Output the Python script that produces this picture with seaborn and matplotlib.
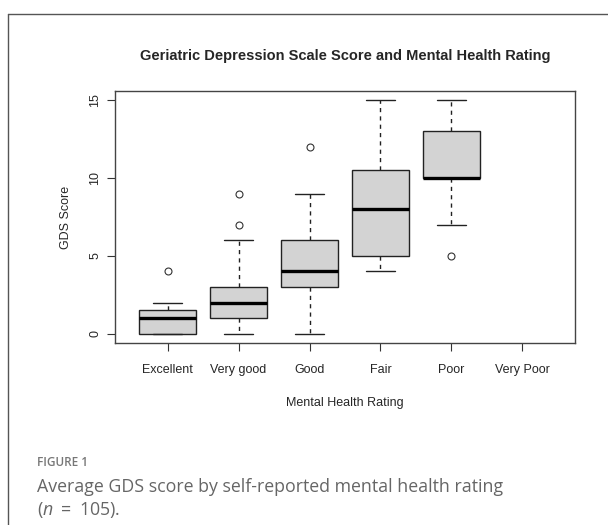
import pandas as pd
import seaborn as sns
import matplotlib.pyplot as plt
from matplotlib.lines import Line2D

# GDS scores per self-rated mental health group (reconstructed to match the box statistics)
categories = ['Excellent', 'Very good', 'Good', 'Fair', 'Poor', 'Very Poor']
excellent = [0, 0, 0, 0, 1, 1, 1, 1, 2, 2, 4]
very_good = [0, 0, 1, 1, 1, 1, 1, 2, 2, 2, 2, 2, 3, 3, 3, 3, 4, 5, 6, 7, 9]
good = [0, 1, 2, 2, 3, 3, 3, 3, 3, 4, 4, 4, 4, 4, 5, 5, 5, 6, 6, 6, 7, 7, 8, 9, 12]
fair = [4, 4, 5, 5, 5, 5, 5, 6, 7, 7, 8, 8, 8, 9, 9, 10, 10, 11, 12, 13, 14, 15, 15]
poor = [5, 7, 9, 10, 10, 10, 10, 11, 12, 13, 14, 15, 15]
very_poor = []
y_ticks = [0, 5, 10, 15]

groups = [excellent, very_good, good, fair, poor, very_poor]
df = pd.DataFrame({
    'rating': [c for c, g in zip(categories, groups) for _ in g],
    'score': [v for g in groups for v in g],
})

sns.set_style('white')
plt.rcParams['font.family'] = ['Liberation Sans', 'DejaVu Sans']
plt.rcParams['mathtext.fontset'] = 'custom'
plt.rcParams['mathtext.rm'] = 'Open Sans'
plt.rcParams['mathtext.it'] = 'Open Sans:italic'

fig = plt.figure(figsize=(6.08, 5.25), dpi=100)
ax = fig.add_axes([115 / 608, 1 - 343 / 525, 460 / 608, 252 / 525])

sns.boxplot(data=df, x='rating', y='score', order=categories, ax=ax,
            width=0.8, color='#d3d3d3', linecolor='black', linewidth=1.0,
            boxprops=dict(facecolor='#d3d3d3', edgecolor='#222222'),
            medianprops=dict(color='black', linewidth=2.4),
            whiskerprops=dict(color='#222222', linestyle=(0, (3, 3))),
            capprops=dict(color='#222222'),
            flierprops=dict(marker='o', markerfacecolor='none',
                            markeredgecolor='#333333', markersize=5,
                            markeredgewidth=0.8))

ax.set_xlim(-0.74, 5.74)
ax.set_ylim(-0.6, 15.6)
ax.set_yticks(y_ticks)
ax.set_yticklabels([str(t) for t in y_ticks], rotation=90, va='center')
ax.tick_params(axis='both', which='both', direction='out', length=6,
               width=0.8, color='#333333', labelsize=9, pad=4,
               left=True, bottom=True)
ax.tick_params(axis='x', pad=9)
for s in ax.spines.values():
    s.set_visible(True)
    s.set_color('#444444')
    s.set_linewidth(1.0)

ax.set_xlabel('Mental Health Rating', fontsize=9, labelpad=15)
ax.set_ylabel('GDS Score', fontsize=9, labelpad=12)
ax.set_title('Geriatric Depression Scale Score and Mental Health Rating',
             fontsize=10.5, fontweight='bold', pad=22)

# outer frame of the figure panel
fig.add_artist(Line2D([8 / 608, 8 / 608], [0, 1 - 14 / 525], color='#555555', lw=1))
fig.add_artist(Line2D([8 / 608, 1], [1 - 14 / 525, 1 - 14 / 525], color='#555555', lw=1))

fig.text(37 / 608, 1 - 462 / 525, 'FIGURE 1', fontsize=8.5, color='#777777',
         family='Open Sans', fontweight='semibold', va='center')
fig.text(37 / 608, 1 - 487 / 525, 'Average GDS score by self-reported mental health rating',
         fontsize=12.8, color='#666666', family='Open Sans', va='center')
fig.text(37 / 608, 1 - 510 / 525, r'($n\ =\ $105).',
         fontsize=12.8, color='#666666', family='Open Sans', va='center')

fig.savefig('out.png', dpi=100)
